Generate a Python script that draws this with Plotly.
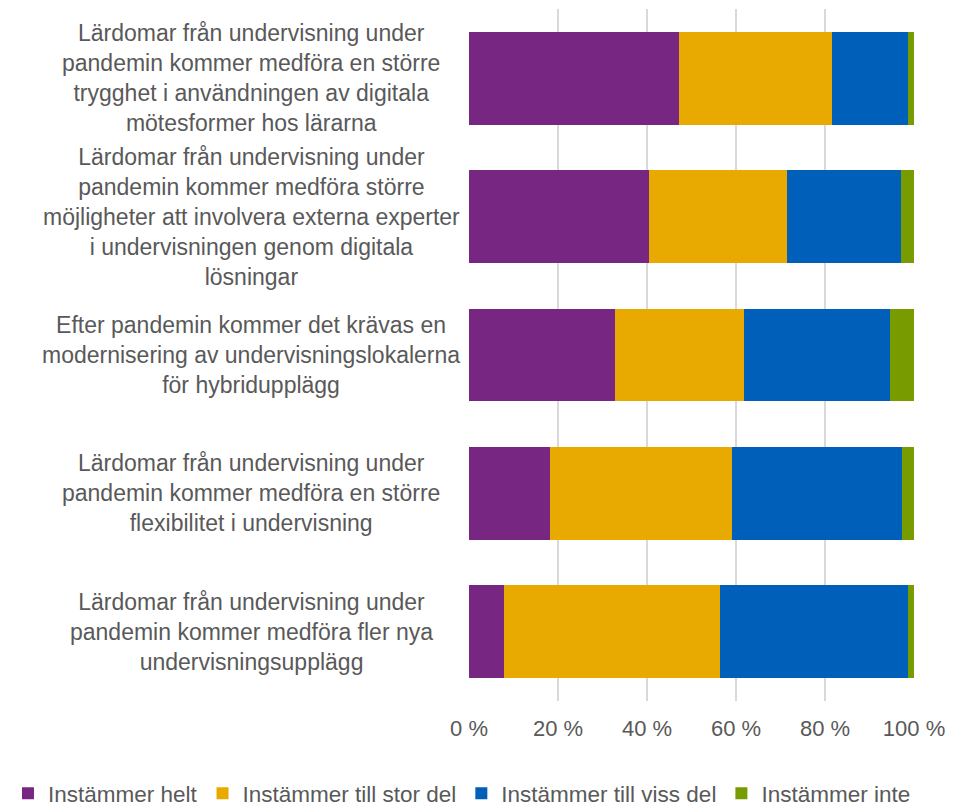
import plotly.graph_objects as go

# Survey statements (top to bottom) and share per answer, in percent
statements = [
    "Lärdomar från undervisning under<br>pandemin kommer medföra en större<br>trygghet i användningen av digitala<br>mötesformer hos lärarna",
    "Lärdomar från undervisning under<br>pandemin kommer medföra större<br>möjligheter att involvera externa experter<br>i undervisningen genom digitala<br>lösningar",
    "Efter pandemin kommer det krävas en<br>modernisering av undervisningslokalerna<br>för hybridupplägg",
    "Lärdomar från undervisning under<br>pandemin kommer medföra en större<br>flexibilitet i undervisning",
    "Lärdomar från undervisning under<br>pandemin kommer medföra fler nya<br>undervisningsupplägg",
]
keys = ["s1", "s2", "s3", "s4", "s5"]

helt = [47.3, 40.4, 32.9, 18.3, 7.9]
stor_del = [34.3, 31.1, 29.0, 40.9, 48.6]
viss_del = [17.1, 25.6, 32.8, 38.2, 42.2]
inte = [1.3, 2.9, 5.3, 2.6, 1.3]

series = [
    ("Instämmer helt", helt, "#772681"),
    ("Instämmer till stor del", stor_del, "#E8AA00"),
    ("Instämmer till viss del", viss_del, "#005FB8"),
    ("Instämmer inte", inte, "#789B00"),
]

tick_vals = [0, 20, 40, 60, 80, 100]
tick_text = ["0 %", "20 %", "40 %", "60 %", "80 %", "100 %"]

FONT = "Liberation Sans, Arial"
GREY = "#595959"

fig = go.Figure()
for name, vals, color in series:
    fig.add_trace(go.Bar(
        y=keys, x=vals, name=name, orientation="h",
        marker=dict(color=color, line=dict(width=0)),
    ))

# statement labels, centred text to the left of the bars
for key, text in zip(keys, statements):
    fig.add_annotation(
        x=-0.489, y=key, xref="paper", yref="y",
        text=text, showarrow=False, align="center",
        xanchor="center", yanchor="middle",
        font=dict(family=FONT, size=23, color=GREY),
    )

# page body has an 8px margin, so the figure is shifted up/left by that much
fig.update_layout(
    barmode="stack",
    bargap=0.33,
    width=966, height=809,
    margin=dict(l=461, r=60, t=1, b=116, autoexpand=False),
    plot_bgcolor="white",
    paper_bgcolor="white",
    font=dict(family=FONT, size=22, color=GREY),
    # x < 0 so the legend may span the left margin and stay on one row
    legend=dict(
        orientation="h", xref="paper", yref="paper",
        x=-1.036, y=-0.134, xanchor="left", yanchor="middle",
        font=dict(size=22.5, color=GREY),
        traceorder="normal", itemwidth=30,
    ),
    showlegend=True,
)
fig.update_xaxes(
    range=[0, 100], tickvals=tick_vals, ticktext=tick_text,
    showgrid=True, gridcolor="#D9D9D9", gridwidth=1.5,
    zeroline=False, showline=False, ticklabelstandoff=12,
)
fig.update_yaxes(
    categoryorder="array", categoryarray=keys, autorange="reversed",
    showticklabels=False, showgrid=False, zeroline=False, showline=False,
)

fig.write_html("out.html")
